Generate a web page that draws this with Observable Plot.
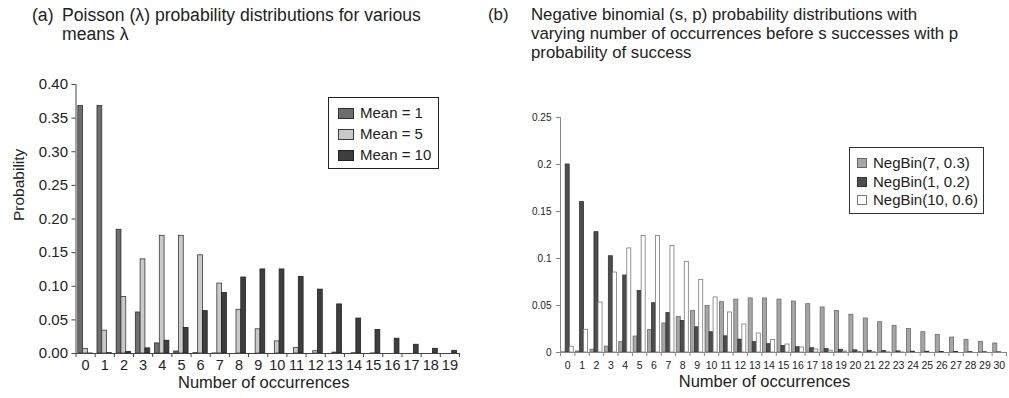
<!DOCTYPE html>
<html><head><meta charset="utf-8">
<script src="https://cdn.jsdelivr.net/npm/d3@7"></script>
<script src="https://cdn.jsdelivr.net/npm/@observablehq/plot@0.6"></script>
<style>
body{margin:0;background:#fff;font-family:"Liberation Sans",Arial,sans-serif;color:#222}
#root{position:relative;width:1009px;height:398px;overflow:hidden}
.abs{position:absolute}
.legend{position:absolute;background:#fff;box-sizing:border-box}
.row{position:absolute;left:0;white-space:nowrap}
.sw{position:absolute;box-sizing:border-box}
.title{position:absolute;line-height:19px;white-space:nowrap}
</style></head>
<body><div id="root"></div>
<script>
// ---------- data ----------
const poissonCats = [0,1,2,3,4,5,6,7,8,9,10,11,12,13,14,15,16,17,18,19];
const poissonNames = ["Mean = 1", "Mean = 5", "Mean = 10"];
const poissonMean1 = [0.368,0.368,0.184,0.061,0.015,0.003,0.0005,0.0001,0,0,0,0,0,0,0,0,0,0,0,0];
const poissonMean5 = [0.0067,0.034,0.084,0.140,0.175,0.175,0.146,0.104,0.065,0.036,0.018,0.008,0.0034,0.0013,0.0005,0.0002,0,0,0,0];
const poissonMean10 = [0.00005,0.0005,0.0023,0.0076,0.019,0.038,0.063,0.090,0.113,0.125,0.125,0.114,0.095,0.073,0.052,0.035,0.022,0.013,0.007,0.004];
const poissonYTicks = [0,0.05,0.10,0.15,0.20,0.25,0.30,0.35,0.40];
const poissonXTitle = "Number of occurrences";
const poissonYTitle = "Probability";

const nbCats = [0,1,2,3,4,5,6,7,8,9,10,11,12,13,14,15,16,17,18,19,20,21,22,23,24,25,26,27,28,29,30];
const nbNames = ["NegBin(7, 0.3)", "NegBin(1, 0.2)", "NegBin(10, 0.6)"];
const nb7 = [0.0002,0.0011,0.0030,0.0063,0.0110,0.0170,0.0238,0.0309,0.0379,0.0442,0.0495,0.0535,0.0562,0.0575,0.0575,0.0563,0.0542,0.0514,0.0479,0.0441,0.0402,0.0362,0.0322,0.0284,0.0249,0.0216,0.0186,0.0159,0.0135,0.0114,0.0096];
const nb1 = [0.2,0.16,0.128,0.1024,0.0819,0.0655,0.0524,0.0419,0.0336,0.0268,0.0215,0.0172,0.0137,0.0110,0.0088,0.0070,0.0056,0.0045,0.0036,0.0029,0.0023,0.0018,0.0015,0.0012,0.0009,0.0008,0.0006,0.0005,0.0004,0.0003,0.0002];
const nb10 = [0.0060,0.0242,0.0532,0.0851,0.1107,0.1240,0.1240,0.1133,0.0963,0.0771,0.0586,0.0426,0.0298,0.0202,0.0133,0.0085,0.0053,0.0032,0.0019,0.0011,0.0007,0.0004,0.0002,0.0001,0,0,0,0,0,0,0];
const nbYTicks = [0,0.05,0.1,0.15,0.2,0.25];
const nbXTitle = "Number of occurrences";

const titleA = ["(a)", "Poisson (\u03bb) probability distributions for various", "means \u03bb"];
const titleB = ["(b)", "Negative binomial (s, p) probability distributions with", "varying number of occurrences before s successes with p", "probability of success"];

// ---------- styles ----------
const FONT = "Liberation Sans, Arial, sans-serif";
const poissonFills = ["#6e6e6e", "#c9c9c9", "#3e3e3e"];
const poissonStrokes = ["#303030", "#3a3a3a", "#222222"];
const nbFills = ["#a6a6a6", "#4d4d4d", "#ffffff"];
const nbStrokes = ["#6a6a6a", "#333333", "#7a7a7a"];

const root = document.getElementById("root");

function barPanel(cfg) {
  const marks = [];
  cfg.series.forEach((vals, i) => {
    const rows = cfg.cats.map((k, j) => ({k, p: vals[j]}));
    marks.push(Plot.rectY(rows, {
      x1: d => d.k - 0.5 + cfg.pad + i * cfg.bw,
      x2: d => d.k - 0.5 + cfg.pad + (i + 1) * cfg.bw,
      y1: 0, y2: "p",
      fill: cfg.fills[i], stroke: cfg.strokes[i], strokeWidth: cfg.sw
    }));
  });
  const lo = cfg.cats[0] - 0.5, hi = cfg.cats[cfg.cats.length - 1] + 0.5;
  const bounds = cfg.cats.map(k => k - 0.5).concat([hi]);
  marks.push(
    Plot.ruleY([0], {stroke: cfg.axisColor, strokeWidth: 1}),
    Plot.ruleX([lo], {stroke: cfg.axisColor, strokeWidth: 1}),
    Plot.axisY({ticks: cfg.yTicks, tickFormat: cfg.yFmt, tickSize: 4, tickPadding: cfg.yPad, fontSize: cfg.yFont, stroke: cfg.axisColor, fill: "#222", label: null}),
    Plot.axisX({ticks: bounds, tickFormat: () => "", tickSize: 4, stroke: cfg.axisColor, label: null}),
    Plot.axisX({ticks: cfg.cats, tickSize: 0, tickPadding: cfg.xPad, fontSize: cfg.xFont, fill: "#222", label: null}),
    Plot.text([cfg.xTitle], {frameAnchor: "bottom", dy: cfg.xTitleDy, dx: cfg.xTitleDx, fontSize: 16.5, fill: "#222"})
  );
  if (cfg.yTitle) marks.push(Plot.text([cfg.yTitle], {frameAnchor: "left", dx: cfg.yTitleDx, dy: 2, rotate: -90, fontSize: 15.5, fill: "#222"}));
  const svg = Plot.plot({
    width: cfg.width, height: 398,
    marginLeft: cfg.ml, marginRight: cfg.mr, marginTop: cfg.mt, marginBottom: cfg.mb,
    x: {domain: [lo, hi]},
    y: {domain: [0, cfg.yMax], label: null},
    style: {fontFamily: FONT, background: "transparent", overflow: "visible"},
    marks
  });
  const wrap = document.createElement("div");
  wrap.className = "abs";
  wrap.style.left = cfg.left + "px"; wrap.style.top = "0px";
  wrap.appendChild(svg);
  root.appendChild(wrap);
}

barPanel({
  left: 0, width: 500, ml: 75.5, mr: 41, mt: 84, mb: 45,
  cats: poissonCats, series: [poissonMean1, poissonMean5, poissonMean10],
  fills: poissonFills, strokes: poissonStrokes, sw: 0.8,
  pad: 0.12, bw: 0.25, yMax: 0.40, yTicks: poissonYTicks, yFmt: d3.format(".2f"),
  yPad: 4, yFont: 15, xPad: 6, xFont: 14.5, axisColor: "#444",
  xTitle: poissonXTitle, xTitleDy: 34, xTitleDx: -4, yTitle: poissonYTitle, yTitleDx: -57
});

barPanel({
  left: 500, width: 509, ml: 60, mr: 3, mt: 117, mb: 46,
  cats: nbCats, series: [nb7, nb1, nb10],
  fills: nbFills, strokes: nbStrokes, sw: 0.8,
  pad: 0.08, bw: 0.28, yMax: 0.25, yTicks: nbYTicks, yFmt: d => String(d),
  yPad: 5, yFont: 10, xPad: 9, xFont: 10.5, axisColor: "#888",
  xTitle: nbXTitle, xTitleDy: 34, xTitleDx: -19, yTitle: null
});

// ---------- titles ----------
function title(lines, x0, x1, top, size) {
  const a = document.createElement("div");
  a.className = "title"; a.style.left = x0 + "px"; a.style.top = top + "px"; a.style.fontSize = size + "px";
  a.textContent = lines[0];
  root.appendChild(a);
  const b = document.createElement("div");
  b.className = "title"; b.style.left = x1 + "px"; b.style.top = top + "px"; b.style.fontSize = size + "px";
  b.innerHTML = lines.slice(1).join("<br>");
  root.appendChild(b);
}
title(titleA, 32, 62, 6, 17.6);
title(titleB, 488, 531, 5, 16.8);

// ---------- legends ----------
function legend(names, fills, strokes, box, rows, sw, textX, font) {
  const lg = document.createElement("div");
  lg.className = "legend";
  Object.assign(lg.style, {left: box[0] + "px", top: box[1] + "px", width: box[2] + "px", height: box[3] + "px", border: box[4]});
  root.appendChild(lg);
  names.forEach((n, i) => {
    const s = document.createElement("div");
    s.className = "sw";
    Object.assign(s.style, {left: (sw[0] - box[0]) + "px", top: (rows[i] - box[1] - sw[2] / 2) + "px", width: sw[1] + "px", height: sw[2] + "px", background: fills[i], border: "1px solid " + strokes[i]});
    lg.appendChild(s);
    const t = document.createElement("div");
    t.className = "row";
    Object.assign(t.style, {left: (textX - box[0]) + "px", top: (rows[i] - box[1] - 9) + "px", fontSize: font + "px", lineHeight: "18px"});
    t.textContent = n;
    lg.appendChild(t);
  });
}
legend(poissonNames, poissonFills, poissonStrokes, [328, 97, 111, 72, "1.5px solid #222"], [112, 133, 154], [337, 16, 11], 359, 15);
legend(nbNames, nbFills, nbStrokes, [849, 147, 135, 67, "1px solid #333"], [162, 180.5, 199], [856, 10, 10], 872, 15);
</script></body></html>
